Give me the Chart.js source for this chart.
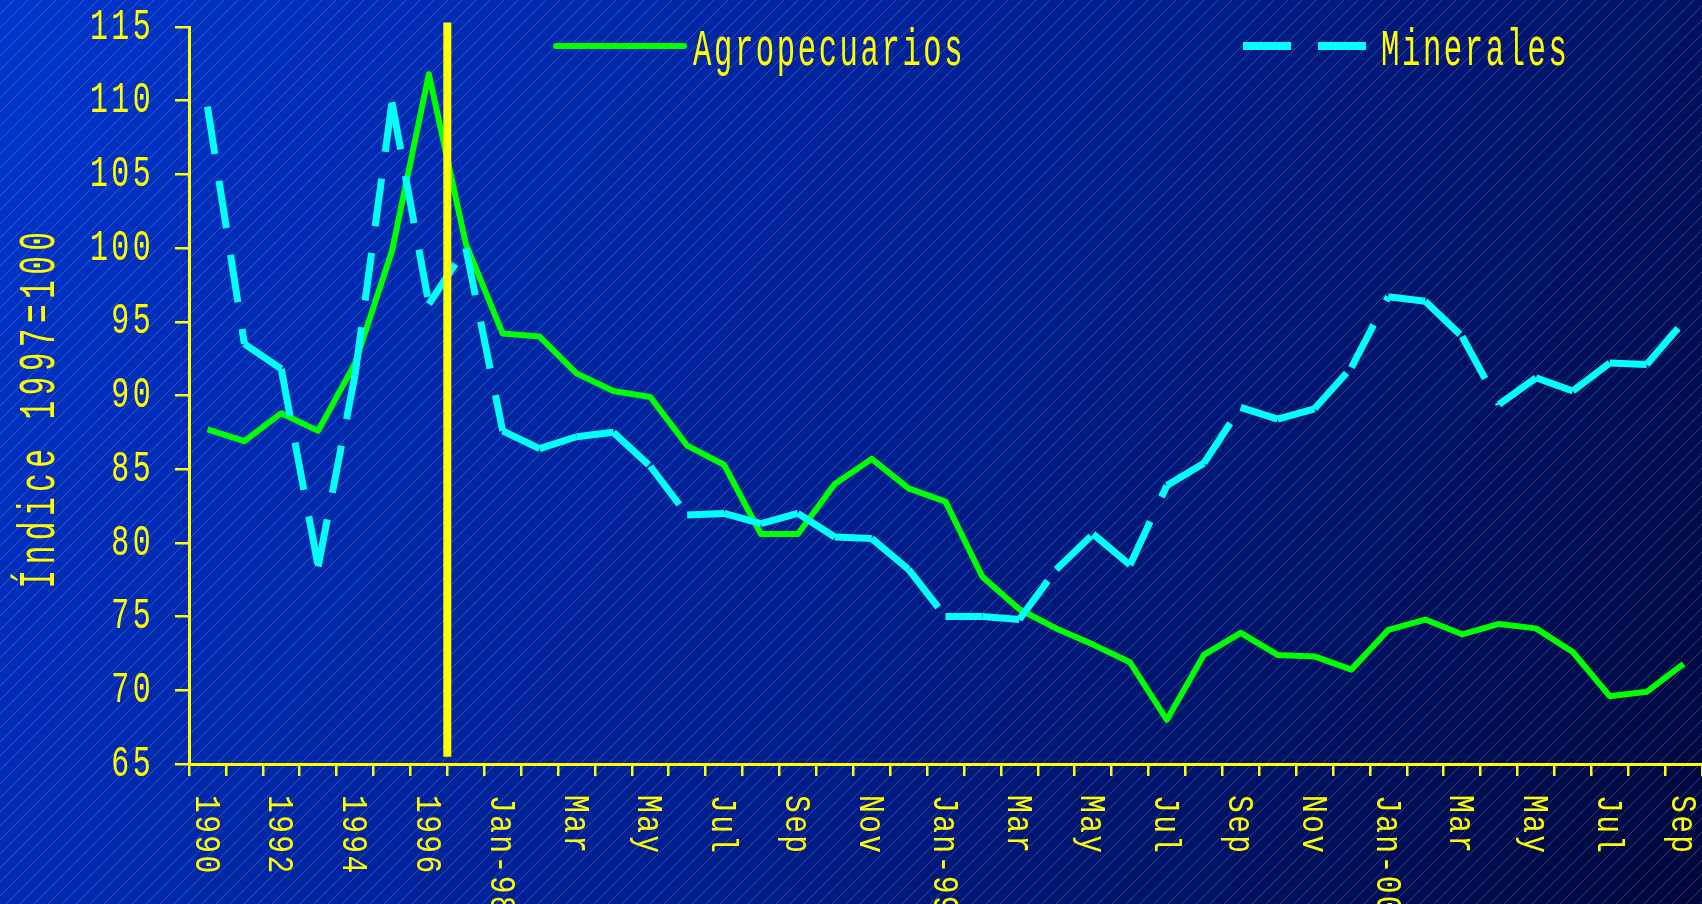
<!DOCTYPE html>
<html>
<head>
<meta charset="utf-8">
<title>Índice 1997=100</title>
<script src="https://cdn.jsdelivr.net/npm/chart.js@4.4.1/dist/chart.umd.min.js"></script>
<style>
  html, body { margin: 0; padding: 0; background: #001a80; }
  canvas { display: block; }
</style>
</head>
<body>
<canvas id="indexChart" width="1702" height="904"></canvas>
<script>
const categories = [
  '1990', '1991', '1992', '1993', '1994', '1995', '1996', '1997',
  'Jan-98', 'Feb', 'Mar', 'Apr', 'May', 'Jun', 'Jul', 'Aug', 'Sep', 'Oct', 'Nov', 'Dec',
  'Jan-99', 'Feb', 'Mar', 'Apr', 'May', 'Jun', 'Jul', 'Aug', 'Sep', 'Oct', 'Nov', 'Dec',
  'Jan-00', 'Feb', 'Mar', 'Apr', 'May', 'Jun', 'Jul', 'Aug', 'Sep'
];
const agropecuarios = [
  87.7, 86.9, 88.8, 87.6, 92.2, 99.8, 111.8, 100.3,
  94.2, 94.0, 91.5, 90.3, 89.9, 86.6, 85.3, 80.6, 80.6, 84.0, 85.7, 83.7,
  82.8, 77.7, 75.5, 74.2, 73.1, 71.9, 68.0, 72.4, 73.9, 72.4, 72.3, 71.4,
  74.1, 74.8, 73.8, 74.5, 74.2, 72.6, 69.6, 69.9, 71.8
];
const minerales = [
  109.6, 93.5, 91.8, 78.4, 91.4, 109.9, 96.2, 100.0,
  87.6, 86.4, 87.2, 87.5, 85.2, 81.9, 82.0, 81.3, 82.0, 80.4, 80.3, 78.2,
  75.0, 75.0, 74.8, 78.2, 80.6, 78.5, 83.9, 85.4, 89.2, 88.4, 89.1, 91.9,
  96.7, 96.4, 94.0, 89.4, 91.2, 90.3, 92.2, 92.1, 95.0
];
const yMin = 65;
const yMax = 115;
const yStep = 5;
const yTitle = 'Índice 1997=100';
const labelEvery = 2;
const dividerBetween = ['1996', '1997'];
const dividerRange = [65.5, 115.3];

const YELLOW = '#ffff00';
const monoFont = "'Liberation Mono', 'DejaVu Sans Mono', monospace";

// draws text squeezed along its direction (the original uses a condensed, letter-spaced face)
function squeezedText(ctx, text, x, y, size, squeeze, spacing, rotation, align) {
  ctx.save();
  ctx.translate(x, y);
  if (rotation) ctx.rotate(rotation);
  ctx.scale(squeeze, 1);
  ctx.font = size + 'px ' + monoFont;
  ctx.letterSpacing = spacing + 'px';
  ctx.textAlign = align;
  ctx.fillText(text, 0, 0);
  ctx.restore();
}

const backgroundPlugin = {
  id: 'background',
  beforeDraw(chart) {
    const {ctx, width, height} = chart;
    ctx.save();
    const g = ctx.createLinearGradient(0, 0, width, height);
    g.addColorStop(0, '#0035cc');
    g.addColorStop(0.55, '#001d8a');
    g.addColorStop(1, '#00073a');
    ctx.fillStyle = g;
    ctx.fillRect(0, 0, width, height);
    // thin diagonal hatching
    ctx.strokeStyle = 'rgba(170, 190, 255, 0.28)';
    ctx.lineWidth = 1;
    ctx.beginPath();
    for (let c = 0; c < width + height; c += 14) {
      ctx.moveTo(c, 0);
      ctx.lineTo(c - height, height);
    }
    ctx.stroke();
    ctx.restore();
  }
};

const dividerPlugin = {
  id: 'divider',
  afterDatasetsDraw(chart) {
    const {ctx, scales: {x, y}} = chart;
    const a = x.getPixelForValue(categories.indexOf(dividerBetween[0]));
    const b = x.getPixelForValue(categories.indexOf(dividerBetween[1]));
    const px = (a + b) / 2;
    ctx.save();
    ctx.strokeStyle = YELLOW;
    ctx.lineWidth = 8;
    ctx.beginPath();
    ctx.moveTo(px, y.getPixelForValue(dividerRange[0]));
    ctx.lineTo(px, y.getPixelForValue(dividerRange[1]));
    ctx.stroke();
    ctx.restore();
  }
};

const axisTextPlugin = {
  id: 'axisText',
  afterDraw(chart) {
    const {ctx, scales: {x, y}} = chart;
    ctx.save();
    ctx.fillStyle = YELLOW;
    ctx.textBaseline = 'middle';

    // y tick labels
    y.ticks.forEach(t => {
      squeezedText(ctx, String(t.value), y.right - 35, y.getPixelForValue(t.value), 44, 0.68, 5, 0, 'right');
    });

    // y axis title
    squeezedText(ctx, yTitle, 40, (y.top + y.bottom) / 2 + 12, 52, 0.6, 9, -Math.PI / 2, 'center');

    // x labels, rotated clockwise, every second category
    categories.forEach((label, i) => {
      if (i % labelEvery) return;
      squeezedText(ctx, label, x.getPixelForValue(i) - 2, x.top + 31, 37, 0.8, 3, Math.PI / 2, 'left');
    });
    ctx.restore();
  }
};

const legendPlugin = {
  id: 'seriesLegend',
  afterDraw(chart) {
    const {ctx} = chart;
    const slots = [
      {from: 556, to: 684, text: 693},
      {from: 1243, to: 1366, text: 1381}
    ];
    chart.data.datasets.forEach((ds, i) => {
      const s = slots[i];
      ctx.save();
      ctx.strokeStyle = ds.borderColor;
      ctx.lineWidth = ds.borderDash ? 8 : 6;
      ctx.lineCap = ds.borderDash ? 'butt' : 'round';
      ctx.setLineDash(ds.borderDash || []);
      ctx.beginPath();
      ctx.moveTo(s.from, 46);
      ctx.lineTo(s.to, 46);
      ctx.stroke();
      ctx.fillStyle = YELLOW;
      ctx.textBaseline = 'alphabetic';
      squeezedText(ctx, ds.label, s.text, 65, 51, 0.6, 4.3, 0, 'left');
      ctx.restore();
    });
  }
};

new Chart(document.getElementById('indexChart').getContext('2d'), {
  type: 'line',
  data: {
    labels: categories,
    datasets: [{
      label: 'Agropecuarios',
      data: agropecuarios,
      borderColor: '#00ff00',
      borderWidth: 6,
      borderJoinStyle: 'round',
      pointRadius: 0,
      tension: 0,
      order: 2
    }, {
      label: 'Minerales',
      data: minerales,
      borderColor: '#00ffff',
      borderWidth: 7,
      borderDash: [48, 27],
      borderCapStyle: 'butt',
      pointRadius: 0,
      tension: 0,
      order: 1,
      // restart the dash on every segment, like the original
      segment: {
        borderDashOffset: c => (c.p0DataIndex % 2) * 0.01
      }
    }]
  },
  options: {
    responsive: false,
    animation: false,
    devicePixelRatio: 1,
    layout: { padding: { top: 27, right: 0, bottom: 0, left: 0 } },
    plugins: {
      legend: { display: false },
      tooltip: { enabled: false }
    },
    scales: {
      x: {
        offset: true,
        grid: { offset: true, drawOnChartArea: false, tickLength: 12, color: YELLOW, lineWidth: 2.5 },
        border: { color: YELLOW, width: 3 },
        ticks: { display: false, autoSkip: false },
        afterFit: s => { s.height = 140; }
      },
      y: {
        min: yMin,
        max: yMax,
        ticks: { stepSize: yStep, display: false },
        grid: { drawOnChartArea: false, tickLength: 14, color: YELLOW, lineWidth: 2.5 },
        border: { color: YELLOW, width: 3 },
        afterFit: s => { s.width = 189; }
      }
    }
  },
  plugins: [backgroundPlugin, dividerPlugin, axisTextPlugin, legendPlugin]
});
</script>
</body>
</html>
